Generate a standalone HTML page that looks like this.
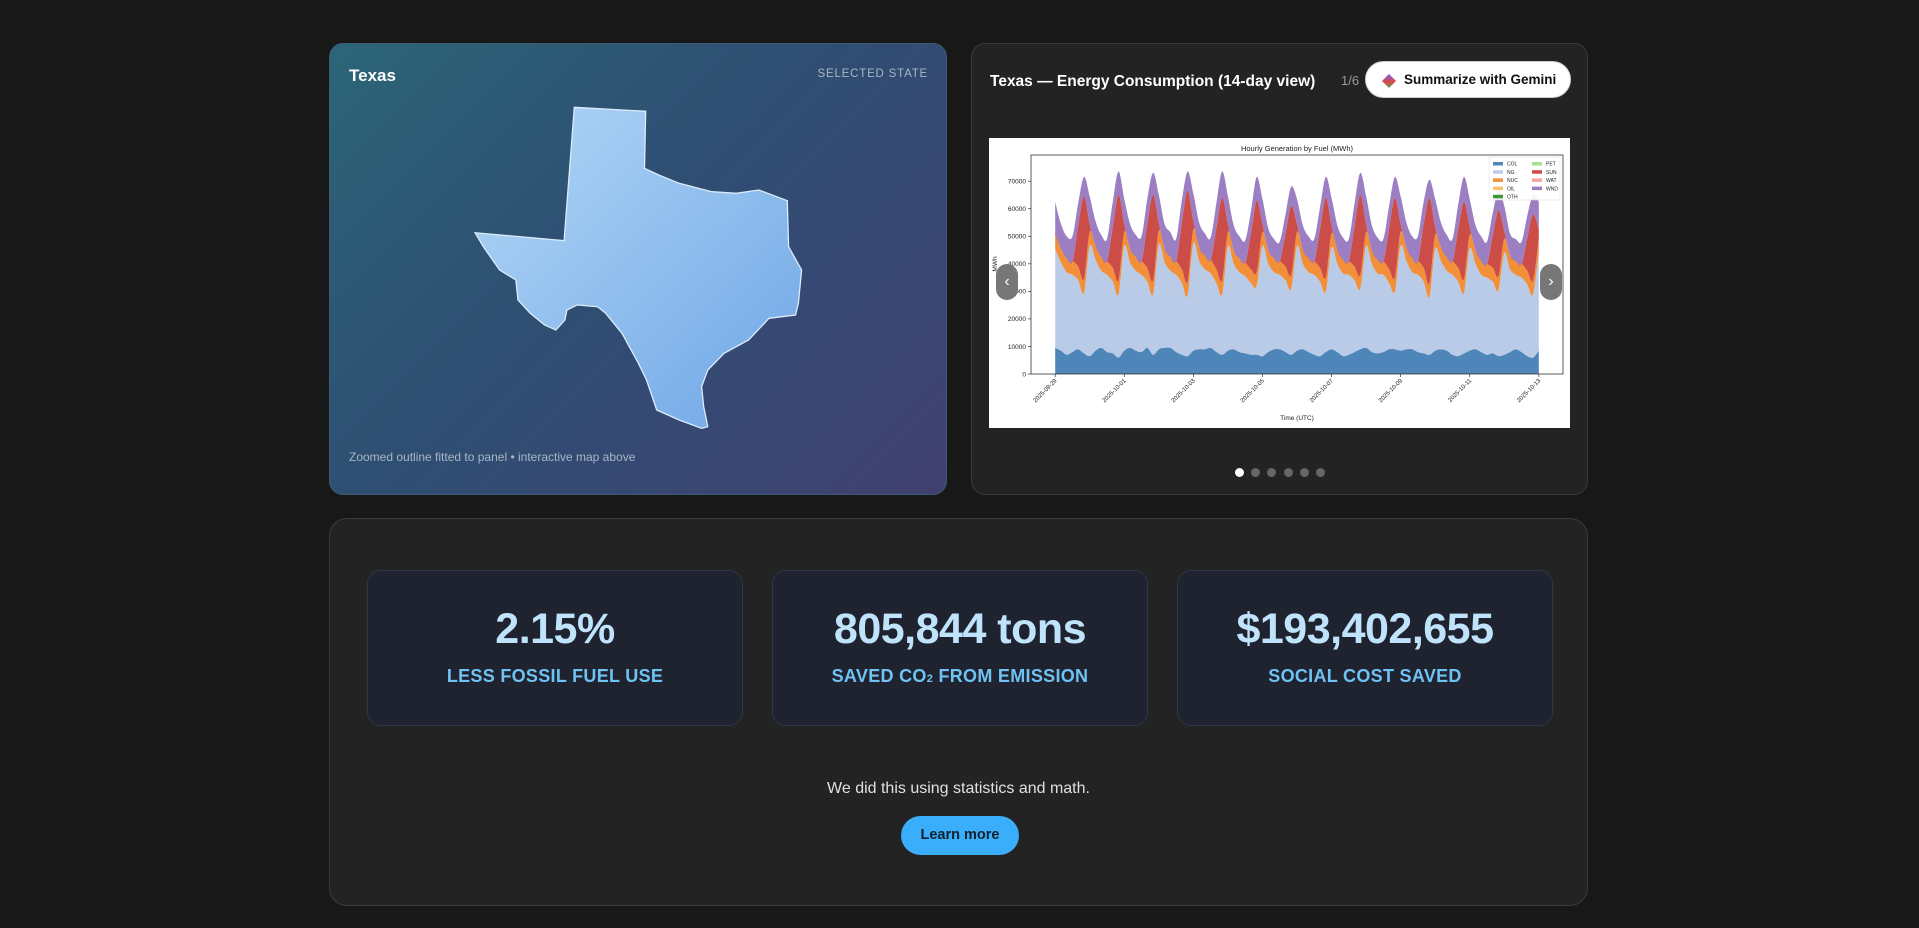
<!DOCTYPE html>
<html><head><meta charset="utf-8">
<style>
*{box-sizing:border-box;margin:0;padding:0}
body{width:1919px;height:928px;background:#181818;font-family:"Liberation Sans",sans-serif;position:relative;overflow:hidden}
.abs{position:absolute}
#map-card{left:329px;top:43px;width:618px;height:452px;border-radius:14px;background:linear-gradient(135deg,#2c6578 0%,#2e4e72 45%,#3a4672 80%,#41406e 100%);border:1px solid #3d5a74;overflow:hidden}
#chart-card{left:971px;top:43px;width:617px;height:452px;border-radius:14px;background:#232323;border:1px solid #3a3a3a}
#bottom-card{left:329px;top:518px;width:1259px;height:388px;border-radius:18px;background:#232323;border:1px solid #3a3a3a}
.stat{top:51px;width:376px;height:156px;border-radius:14px;background:#1f2330;border:1px solid #2f3649;text-align:center}
.stat .num{position:absolute;left:0;right:0;top:34px;font-size:43px;font-weight:bold;color:#bfe3fb;letter-spacing:-0.5px}
.stat .lbl{position:absolute;left:0;right:0;top:95px;font-size:18px;font-weight:bold;color:#6fc2f4;letter-spacing:0.3px}
.dot{width:9px;height:9px;border-radius:50%;background:#666;top:424px}
</style></head><body>
<div id="map-card" class="abs">
  <div class="abs" style="left:19px;top:22px;font-size:17px;font-weight:bold;color:#fff">Texas</div>
  <div class="abs" style="right:18px;top:24px;font-size:11.5px;color:#a8b6c6;letter-spacing:0.8px">SELECTED STATE</div>
  <div class="abs" style="left:19px;top:406px;font-size:12px;color:#a8b6c6">Zoomed outline fitted to panel • interactive map above</div>
</div>
<svg class="abs" style="left:0;top:0" width="1919" height="928">
  <defs><linearGradient id="tx" x1="0" y1="0" x2="1" y2="1"><stop offset="0" stop-color="#b2d7f6"/><stop offset="1" stop-color="#6fa6e6"/></linearGradient></defs>
  <polygon fill="url(#tx)" stroke="#dcecfb" stroke-width="1.3" points="574.3,107.3 645.7,111.3 644.5,168.3 658.8,175 679.2,183.3 711.8,191.7 736.3,193.3 758.8,190 787.3,200.7 788.6,246.7 801.6,270 798.4,303.3 795.5,315 769,318.3 748.6,340 724.1,353.3 707.8,370 701.6,386.7 703.7,406.7 707.8,426.7 701.6,428.3 679.2,420 656.7,410 646.5,380 638.4,363.3 622,333.3 605.7,313.3 597.6,306.7 577.1,305 566.9,310 564.9,320 555.9,330 544.5,325 530.2,313.3 518,300 515.9,280 499.6,270 483.3,246.7 475.1,232.7 564.1,240.7"/>
</svg>

<div id="chart-card" class="abs">
  <div class="abs" style="left:18px;top:29px;font-size:15.5px;font-weight:bold;color:#fff;white-space:nowrap">Texas — Energy Consumption (14-day view)</div>
  <div class="abs" style="left:369px;top:29px;font-size:13px;color:#9a9a9a">1/6</div>
  <div class="abs" style="left:393px;top:17px;width:206px;height:37px;border-radius:19px;background:#fff;border:1px solid #ccc;white-space:nowrap">
    <svg class="abs" style="left:16px;top:12px" width="14" height="14"><defs><linearGradient id="gm" x1="0" y1="0" x2="0" y2="1"><stop offset="0" stop-color="#7b5cf0"/><stop offset="0.6" stop-color="#e0483f"/><stop offset="1" stop-color="#3bb26a"/></linearGradient></defs><polygon points="7,0 14,7 7,14 0,7" fill="url(#gm)"/></svg>
    <div class="abs" style="left:38px;top:10px;font-size:13.5px;font-weight:bold;color:#111">Summarize with Gemini</div>
  </div>
  <div class="abs dot" style="left:263px;background:#fff"></div>
  <div class="abs dot" style="left:279px"></div>
  <div class="abs dot" style="left:295px"></div>
  <div class="abs dot" style="left:312px"></div>
  <div class="abs dot" style="left:328px"></div>
  <div class="abs dot" style="left:344px"></div>
</div>

<svg id="chart" class="abs" style="left:989px;top:138px;background:#fff" width="581" height="290" font-family="Liberation Sans, sans-serif"></svg>

<div class="abs" style="left:996px;top:264px;width:22px;height:36px;border-radius:11px;background:#777;color:#fff;font-size:16px;text-align:center;line-height:36px">‹</div>
<div class="abs" style="left:1540px;top:264px;width:22px;height:36px;border-radius:11px;background:#777;color:#fff;font-size:16px;text-align:center;line-height:36px">›</div>

<div id="bottom-card" class="abs">
  <div class="abs stat" style="left:37px"><div class="num">2.15%</div><div class="lbl">LESS FOSSIL FUEL USE</div></div>
  <div class="abs stat" style="left:442px"><div class="num">805,844 tons</div><div class="lbl">SAVED CO<span style="font-size:11px">2</span> FROM EMISSION</div></div>
  <div class="abs stat" style="left:847px"><div class="num">$193,402,655</div><div class="lbl">SOCIAL COST SAVED</div></div>
  <div class="abs" style="left:0;right:0;top:261px;text-align:center;font-size:16px;color:#e0e0e0">We did this using statistics and math.</div>
  <div class="abs" style="left:571px;top:297px;width:118px;height:39px;border-radius:20px;background:#3aaefb;color:#10212e;font-size:14.5px;font-weight:bold;text-align:center;line-height:39px">Learn more</div>
</div>

<script>
// hourly samples every 4h starting 2025-09-29 00:00 UTC, values in thousand MWh
const seriesNames = ["COL","NG","NUC","SUN","WND"];
const colCoal = [9.5,8.5,7,8,9,7.5, 6.5,8.5,9.5,8,7.5,6, 8.5,9.5,8.5,8,9.5,7, 9,9.5,9.5,8,7,6.5, 8.5,9,9,9.5,8,7, 8.5,9,8,7.5,7,7, 6.5,8,9,9,8,7, 8.5,9,8,7,6.5,8, 9,8,6.5,7,8,9, 9.5,8,7.5,8,9,9, 8.5,9,9,8,7.5,7, 8.5,9,8.5,7,6.5,7.5, 8.5,9,8,7,7.5,6.5, 7,8,9,8,6.5,6, 8.5];
const natGas = [36,32,30,28,25,22, 40,33,28,28,26,23, 38,31,29,28,24,22, 38,31,28,28,26,22, 39,32,29,27,25,22, 38,31,29,28,26,25, 40,32,28,27,26,24, 38,31,29,29,27,22, 37,32,30,29,26,22, 37,32,29,28,24,21, 38,32,28,28,26,21, 37,32,29,29,27,22, 37,31,28,28,26,24, 37,30,27,27,26,23, 36];
const nuclear = [5,5,5,5,5,5, 5,5,5,5,5,5, 5,5,5,5,5,5, 5,5,5,5,5,5, 5,5,5,5,5,5, 5,5,5,5,5,5, 5,5,5,5,5,5, 5,5,5,5,5,5, 5,5,5,5,5,5, 5,5,5,5,5,5, 5,5,5,5,5,5, 5,5,5,5,5,5, 5,5,5,5,5,5, 5,5,5,5,5,5, 5];
const solar = [1,0,0,0,15,30, 3,0,0,0,15,31, 3,0,0,0,16,31, 3,0,0,0,17,33, 3,0,0,0,15,30, 3,0,0,0,13,26, 3,0,0,0,12,25, 3,0,0,0,14,29, 3,0,0,0,15,29, 3,0,0,0,15,29, 3,0,0,0,16,31, 3,0,0,0,14,28, 3,0,0,0,12,24, 3,0,0,0,12,24, 3];
const wind = [11,9,8,9,8,7, 10,9,8,8,9,8.5, 9,9,8,9,9,8, 10,9,9,8,8,7, 10,9,8,8,9,9.5, 10,9,8,8,8,8.5, 9,8,7,7,7,7, 9,9,8,8,8,7.5, 10,9,8,8,8,8, 10,9,8,8,8,7.5, 10,9,8,9,8,6.5, 10,9,8,8,9,9, 10,9,9,8,8,7, 9,8,8,8,8,7, 10];
const yTicks = [0,10000,20000,30000,40000,50000,60000,70000];
const xTickLabels = ["2025-09-29","2025-10-01","2025-10-03","2025-10-05","2025-10-07","2025-10-09","2025-10-11","2025-10-13"];
const legendLabels = ["COL","NG","NUC","OIL","OTH","PET","SUN","WAT","WND"];

const svg = document.getElementById('chart');
const NS = 'http://www.w3.org/2000/svg';
const L=42,R=574,T=17,B=236, stepH=4, xmin=-0.7, xmax=14.7, ymax=79500;
const xs = d => L + (d - xmin)/(xmax - xmin)*(R-L);
const ys = v => B - v/ymax*(B-T);
function mk(tag, attrs){const e=document.createElementNS(NS,tag);for(const k in attrs)e.setAttribute(k,attrs[k]);svg.appendChild(e);return e;}
const colors = ["#4f86b9","#bacbe8","#f28f38","#cc4d48","#9c7fc3"];
const data = [colCoal,natGas,nuclear,solar,wind];
const n = colCoal.length;
let cum = [], prev = new Array(n).fill(0);
data.forEach(s=>{const c=s.map((v,i)=>prev[i]+v*1000);cum.push({lo:prev,hi:c});prev=c;});
function pts(arr){return arr.map((v,i)=>[xs(i*stepH/24), ys(v)]);}
function smooth(p){let d='';for(let i=0;i<p.length-1;i++){const p0=p[Math.max(i-1,0)],p1=p[i],p2=p[i+1],p3=p[Math.min(i+2,p.length-1)];
 const c1=[p1[0]+(p2[0]-p0[0])/6,p1[1]+(p2[1]-p0[1])/6],c2=[p2[0]-(p3[0]-p1[0])/6,p2[1]-(p3[1]-p1[1])/6];
 d+=` C${c1[0].toFixed(1)},${c1[1].toFixed(1)} ${c2[0].toFixed(1)},${c2[1].toFixed(1)} ${p2[0].toFixed(1)},${p2[1].toFixed(1)}`;}return d;}
cum.forEach((c,k)=>{
  const up=pts(c.hi), lo=pts(c.lo).reverse();
  const d='M'+up[0][0]+','+up[0][1]+smooth(up)+' L'+lo[0][0]+','+lo[0][1]+smooth(lo)+' Z';
  const p=mk('path',{d:d,fill:colors[k]});
  
  
});
const frame=mk('rect',{x:L,y:T,width:R-L,height:B-T,fill:'none',stroke:'#333','stroke-width':0.8});


yTicks.forEach(v=>{
  mk('line',{x1:L-3,x2:L,y1:ys(v),y2:ys(v),stroke:'#333','stroke-width':0.7});
  const t=mk('text',{x:L-5,y:ys(v)+2.3,'font-size':6.5,'text-anchor':'end',fill:'#222'});t.textContent=v;
  
  
});
xTickLabels.forEach((s,i)=>{
  const x=xs(i*2);
  mk('line',{x1:x,x2:x,y1:B,y2:B+3,stroke:'#333','stroke-width':0.7});
  const t=mk('text',{x:x+2,y:B+7,'font-size':6,'text-anchor':'end',fill:'#222',transform:`rotate(-45 ${x+2} ${B+7})`});t.textContent=s;
  
  
});
const title=mk('text',{x:(L+R)/2,y:T-4,'font-size':7.5,'text-anchor':'middle',fill:'#222'});title.textContent='Hourly Generation by Fuel (MWh)';


const xl=mk('text',{x:(L+R)/2,y:282,'font-size':6.5,'text-anchor':'middle',fill:'#222'});xl.textContent='Time (UTC)';


const yl=mk('text',{x:8,y:126,'font-size':6.5,'text-anchor':'middle',fill:'#222',transform:'rotate(-90 8 126)'});yl.textContent='MWh';


const lg=mk('rect',{x:500,y:19,width:71,height:43,fill:'#fff',stroke:'#ddd','stroke-width':0.6,opacity:0.9});


const legendColors=["#4f86b9","#bacbe8","#f28f38","#fdbf6f","#3a9a3a","#a3e08f","#cc4d48","#f4a3a0","#9c7fc3"];
legendLabels.forEach((s,i)=>{
  const col=i<5?0:1,row=i<5?i:i-5;
  const x=504+col*39,y=24+row*8.2;
  mk('rect',{x:x,y:y,width:10,height:3.5,fill:legendColors[i]});
  const t=mk('text',{x:x+14,y:y+3.7,'font-size':5,fill:'#222'});t.textContent=s;
  
  
});
</script>
</body></html>
